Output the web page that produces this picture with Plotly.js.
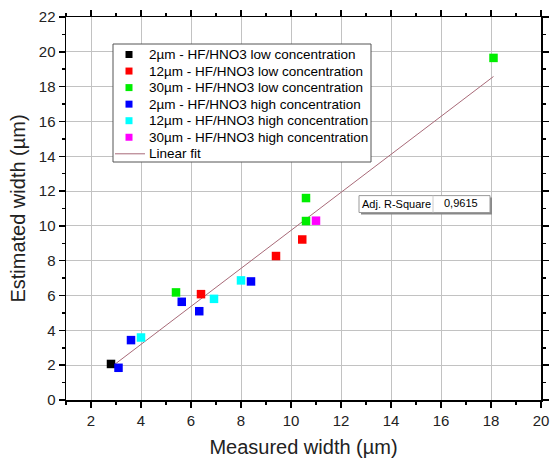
<!DOCTYPE html>
<html>
<head>
<meta charset="utf-8">
<script src="https://cdn.plot.ly/plotly-3.0.1.min.js"></script>
<style>html,body{margin:0;padding:0;background:#fff;}#chart{width:551px;height:460px;}</style>
</head>
<body>
<div id="chart"></div>
<script>
// Series names and colors
const seriesNames = [
  "2µm - HF/HNO3 low concentration",
  "12µm - HF/HNO3 low concentration",
  "30µm - HF/HNO3 low concentration",
  "2µm - HF/HNO3 high concentration",
  "12µm - HF/HNO3 high concentration",
  "30µm - HF/HNO3 high concentration"
];
const seriesColors = ["#000000", "#ff0000", "#00ee00", "#0000ff", "#00ffff", "#ff00ff"];

// Measured (x) and estimated (y) widths per series
const low2X = [2.8];          const low2Y = [2.07];
const low12X = [6.4, 9.4, 10.45];  const low12Y = [6.08, 8.27, 9.22];
const low30X = [5.4, 10.6, 10.6, 18.1]; const low30Y = [6.18, 11.6, 10.28, 19.65];
const high2X = [3.1, 3.6, 5.63, 6.33, 8.4]; const high2Y = [1.85, 3.44, 5.64, 5.1, 6.81];
const high12X = [4.0, 6.92, 8.0]; const high12Y = [3.59, 5.81, 6.87];
const high30X = [11.0]; const high30Y = [10.3];

const fitLabel = "Linear fit";
const fitColor = "#a86a78";
const rSquareLabel = "Adj. R-Square";
const rSquareValue = "0,9615";

const xTicks = [2, 4, 6, 8, 10, 12, 14, 16, 18, 20];
const yTicks = [0, 2, 4, 6, 8, 10, 12, 14, 16, 18, 20, 22];

const allX = [low2X, low12X, low30X, high2X, high12X, high30X];
const allY = [low2Y, low12Y, low30Y, high2Y, high12Y, high30Y];

// least squares fit computed from the data
const fx = allX.flat(), fy = allY.flat();
const n = fx.length;
const mx = fx.reduce((a, b) => a + b, 0) / n;
const my = fy.reduce((a, b) => a + b, 0) / n;
let sxy = 0, sxx = 0;
for (let i = 0; i < n; i++) { sxy += (fx[i] - mx) * (fy[i] - my); sxx += (fx[i] - mx) ** 2; }
const slope = sxy / sxx, intercept = my - slope * mx;
const xmin = Math.min(...fx), xmax = Math.max(...fx);

const traces = [{
  type: "scatter", mode: "lines", name: fitLabel,
  x: [xmin, xmax], y: [intercept + slope * xmin, intercept + slope * xmax],
  line: { color: fitColor, width: 1 }
}];
seriesNames.forEach((name, i) => traces.push({
  type: "scatter", mode: "markers", name: name,
  x: allX[i], y: allY[i],
  marker: { symbol: "square", size: 8.5, color: seriesColors[i], line: { width: 0 } }
}));

const font = "Liberation Sans, Arial, sans-serif";
const axisCommon = {
  showline: true, linecolor: "#000", linewidth: 1.5, mirror: "ticks",
  ticks: "outside", ticklen: 6, tickwidth: 1.5, tickcolor: "#000",
  showgrid: true, gridcolor: "#c2c2c2", gridwidth: 1, zeroline: false,
  tickfont: { family: font, size: 15, color: "#222" },
  minor: { ticks: "outside", ticklen: 3, tickwidth: 1.5, tickcolor: "#000", dtick: 1, showgrid: false }
};

// plot area in pixels (for placing the legend box)
const W = 551, H = 460, M = { l: 66, r: 10, t: 17, b: 60 };
const pw = W - M.l - M.r, ph = H - M.t - M.b;
const px = v => (v - M.l) / pw;
const py = v => (H - M.b - v) / ph;

const shapes = [
  // legend box
  { type: "rect", xref: "paper", yref: "paper", x0: px(113), x1: px(371), y0: py(162), y1: py(44),
    fillcolor: "#fff", line: { color: "#555", width: 1 } },
  // R-square box with shadow
  { type: "rect", xref: "x", yref: "y", x0: 12.8, x1: 18.04, y0: 10.66, y1: 11.63, fillcolor: "#888", line: { width: 0 } },
  { type: "rect", xref: "x", yref: "y", x0: 12.72, x1: 17.96, y0: 10.77, y1: 11.74, fillcolor: "#fff", line: { color: "#999", width: 1 } },
  { type: "line", xref: "x", yref: "y", x0: 15.68, x1: 15.68, y0: 10.77, y1: 11.74, line: { color: "#ccc", width: 1 } }
];
const annotations = [
  { xref: "x", yref: "y", x: 14.2, y: 11.25, text: rSquareLabel, showarrow: false, font: { family: font, size: 11, color: "#000" } },
  { xref: "x", yref: "y", x: 16.8, y: 11.3, text: rSquareValue, showarrow: false, font: { family: font, size: 11, color: "#000" } }
];
const legendLabels = seriesNames.concat([fitLabel]);
legendLabels.forEach((label, i) => {
  const cy = 54.5 + i * 16.55;
  annotations.push({ xref: "paper", yref: "paper", x: px(147), y: py(cy), xanchor: "left", yanchor: "middle",
    text: label, showarrow: false, font: { family: font, size: 13.5, color: "#000" } });
  if (i < seriesNames.length) {
    shapes.push({ type: "rect", xref: "paper", yref: "paper", xsizemode: "pixel", ysizemode: "pixel",
      xanchor: px(129), yanchor: py(cy), x0: -3.5, x1: 3.5, y0: -3.5, y1: 3.5,
      fillcolor: seriesColors[i], line: { width: 0 } });
  } else {
    shapes.push({ type: "line", xref: "paper", yref: "paper", x0: px(115), x1: px(145), y0: py(cy), y1: py(cy),
      line: { color: fitColor, width: 1 } });
  }
});

const layout = {
  width: W, height: H,
  margin: M,
  paper_bgcolor: "#fff", plot_bgcolor: "#fff",
  showlegend: false,
  xaxis: Object.assign({}, axisCommon, {
    range: [1, 20], tickvals: xTicks,
    title: { text: "Measured width (µm)", font: { family: font, size: 20, color: "#222" }, standoff: 12 }
  }),
  yaxis: Object.assign({}, axisCommon, {
    range: [0, 22], tickvals: yTicks,
    title: { text: "Estimated width (µm)", font: { family: font, size: 20, color: "#222" }, standoff: 8 }
  }),
  shapes: shapes,
  annotations: annotations
};

Plotly.newPlot("chart", traces, layout, { displayModeBar: false, staticPlot: true });
</script>
</body>
</html>
